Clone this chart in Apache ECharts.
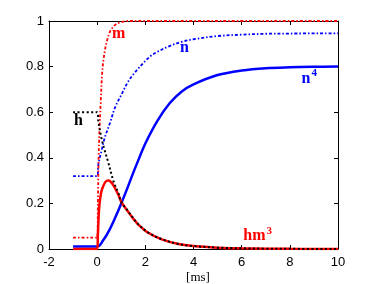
<!DOCTYPE html>
<html><head><meta charset="utf-8">
<script src="https://cdn.jsdelivr.net/npm/echarts@6/dist/echarts.min.js"></script>
<style>html,body{margin:0;padding:0;background:#fff}#c{width:374px;height:284px}</style>
</head><body><div id="c"></div>
<script>
// time [ms] and values
const tM  = [-1, 0, 0.03, 0.06, 0.1, 0.15, 0.2, 0.25, 0.32, 0.4, 0.53, 0.65, 0.8, 1.0, 1.3, 2, 4, 6, 8, 10];
const m   = [0.05, 0.05, 0.2, 0.4, 0.53, 0.65, 0.76, 0.82, 0.87, 0.91, 0.953, 0.972, 0.987, 0.995, 1, 1, 1, 1, 1, 1];

const tH  = [-1, 0, 0.05, 0.19, 0.32, 0.46, 0.67, 0.88, 1.0, 1.29, 1.5, 1.71, 2.12, 2.68, 3.37, 4, 5, 6, 7, 8, 10];
const h   = [0.6, 0.6, 0.56, 0.48, 0.43, 0.38, 0.3, 0.245, 0.207, 0.165, 0.135, 0.108, 0.072, 0.043, 0.022, 0.013, 0.006, 0.003, 0.0015, 0.0007, 0];

const tHm = [-1, 0, 0.03, 0.06, 0.1, 0.17, 0.25, 0.35, 0.46, 0.56, 0.67, 0.88, 1.0, 1.29, 1.5, 1.71, 2.12, 2.68, 3.37, 4, 5, 6, 7, 8, 10];
const hm3 = [0, 0, 0.06, 0.14, 0.2, 0.25, 0.275, 0.295, 0.3, 0.295, 0.28, 0.238, 0.207, 0.163, 0.133, 0.107, 0.071, 0.042, 0.022, 0.013, 0.006, 0.003, 0.0015, 0.0007, 0];

const tN  = [-1, 0, 0.05, 0.19, 0.32, 0.53, 0.74, 1.02, 1.29, 1.57, 1.91, 2.19, 2.5, 3, 3.5, 4, 5, 6, 7, 8, 10];
const n   = [0.32, 0.32, 0.37, 0.435, 0.49, 0.552, 0.62, 0.68, 0.735, 0.775, 0.815, 0.844, 0.865, 0.89, 0.908, 0.92, 0.934, 0.94, 0.944, 0.945, 0.946];

const tN4 = [-1, 0, 0.25, 0.5, 0.75, 1.0, 1.25, 1.5, 1.75, 2.0, 2.5, 3, 3.5, 4, 5, 6, 7, 8, 9, 10];
const n4  = [0.0105, 0.0105, 0.038, 0.082, 0.138, 0.2, 0.266, 0.335, 0.4, 0.463, 0.562, 0.638, 0.69, 0.722, 0.763, 0.783, 0.793, 0.797, 0.799, 0.8];

const xTicks = {min: -2, max: 10, interval: 2};
const yTicks = {min: 0, max: 1, interval: 0.2};

function pairs(t, v) { return t.map((x, i) => [x, v[i]]); }

const chart = echarts.init(document.getElementById('c'), null, {renderer: 'canvas'});

const axLine = {show: true, onZero: false, lineStyle: {color: '#000', width: 1}};
const axTick = {show: true, inside: true, length: 4, lineStyle: {color: '#000', width: 1}};
const lblFont = {color: '#000', fontSize: 13, fontFamily: 'Liberation Sans'};

const RED = '#ff0000', BLUE = '#0000ff';
const serifB = 'bold 16px "Liberation Serif"';
const serifS = 'bold 11px "Liberation Serif"';

const mctx = document.createElement('canvas').getContext('2d');
function tw(txt, font) { mctx.font = font; return mctx.measureText(txt).width; }

const nX = 301.5, hmX = 243.3;

chart.setOption({
  animation: false,
  backgroundColor: '#fff',
  grid: {left: 49, right: 36, top: 21, bottom: 35, containLabel: false},
  xAxis: [
    Object.assign({type: 'value', position: 'bottom', axisLine: axLine, axisTick: axTick,
      axisLabel: Object.assign({margin: 7}, lblFont), splitLine: {show: false}}, xTicks),
    Object.assign({type: 'value', position: 'top', axisLine: axLine, axisTick: axTick,
      axisLabel: {show: false}, splitLine: {show: false}}, xTicks)
  ],
  yAxis: [
    Object.assign({type: 'value', position: 'left', axisLine: axLine, axisTick: axTick,
      axisLabel: Object.assign({margin: 5}, lblFont), splitLine: {show: false}}, yTicks),
    Object.assign({type: 'value', position: 'right', axisLine: axLine, axisTick: axTick,
      axisLabel: {show: false}, splitLine: {show: false}}, yTicks)
  ],
  series: [
    {name: 'n4', type: 'line', data: pairs(tN4, n4), showSymbol: false, smooth: 0.35,
      lineStyle: {color: BLUE, width: 2.5}},
    {name: 'n', type: 'line', data: pairs(tN, n), showSymbol: false, smooth: 0.35,
      lineStyle: {color: BLUE, width: 1.8, type: [3, 2, 1.5, 2]}},
    {name: 'hm3', type: 'line', data: pairs(tHm, hm3), showSymbol: false, smooth: 0.35,
      lineStyle: {color: RED, width: 2.5}},
    {name: 'm', type: 'line', data: pairs(tM, m), showSymbol: false, smooth: 0.35,
      lineStyle: {color: RED, width: 1.8, type: [3, 2, 1.5, 2]}},
    {name: 'h', type: 'line', data: pairs(tH, h), showSymbol: false, smooth: 0.35,
      lineStyle: {color: '#000', width: 2, type: [2, 2.5]}}
  ],
  graphic: [
    {type: 'text', x: 112, y: 33.6, style: {text: 'm', fill: RED, font: serifB, align: 'left', verticalAlign: 'middle'}},
    {type: 'text', x: 180, y: 47.6, style: {text: 'n', fill: BLUE, font: serifB, align: 'left', verticalAlign: 'middle'}},
    {type: 'text', x: nX, y: 78.6, style: {text: 'n', fill: BLUE, font: serifB, align: 'left', verticalAlign: 'middle'}},
    {type: 'text', x: nX + tw('n', serifB) + 1, y: 73, style: {text: '4', fill: BLUE, font: serifS, align: 'left', verticalAlign: 'middle'}},
    {type: 'text', x: 74, y: 121.3, style: {text: 'h', fill: '#000', font: serifB, align: 'left', verticalAlign: 'middle'}},
    {type: 'text', x: hmX, y: 236.3, style: {text: 'hm', fill: RED, font: serifB, align: 'left', verticalAlign: 'middle'}},
    {type: 'text', x: hmX + tw('hm', serifB) + 1, y: 231, style: {text: '3', fill: RED, font: serifS, align: 'left', verticalAlign: 'middle'}},
    {type: 'text', x: 198, y: 277.5, style: {text: '[ms]', fill: '#000', font: '13px "Liberation Serif"', align: 'center', verticalAlign: 'middle'}}
  ]
});
</script>
</body></html>
